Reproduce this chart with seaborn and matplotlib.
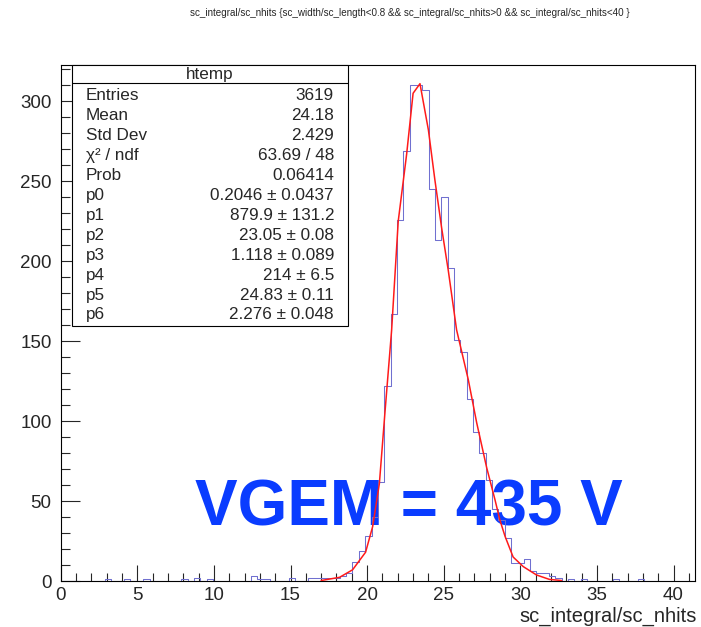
import numpy as np
import pandas as pd
import matplotlib
matplotlib.use("Agg")
import matplotlib.pyplot as plt
import seaborn as sns
from matplotlib.patches import Rectangle
from matplotlib.lines import Line2D
from matplotlib.ticker import MultipleLocator

# ---------------- data ----------------
x_min, x_max, n_bins = 0.0, 41.4, 100
bin_index = [7, 10, 13, 19, 21, 23, 30, 31, 32, 36, 39, 40, 41, 42, 43,
             44, 45, 46, 47, 48, 49, 50, 51, 52, 53, 54, 55, 56, 57, 58,
             59, 60, 61, 62, 63, 64, 65, 66, 67, 68, 69, 70, 71, 72, 73,
             74, 75, 76, 77, 78, 80, 82, 87, 91]
bin_count = [1, 1, 1, 1, 2, 1, 3, 1, 1, 2, 2, 2, 2, 2, 2,
             3, 5, 12, 19, 28, 40, 62, 122, 167, 226, 269, 310, 310, 307, 245,
             213, 240, 196, 151, 143, 114, 93, 80, 63, 45, 38, 27, 11, 11, 14,
             6, 5, 5, 3, 2, 1, 1, 1, 1]

fit_x = [17.0, 18.2, 19.05, 19.9, 20.36, 20.8, 21.16, 21.6, 22.03, 22.58,
         23.0, 23.45, 24.0, 24.42, 24.86, 25.3, 25.84, 26.6, 27.15, 27.8,
         28.34, 28.67, 29.0, 29.53, 30.19, 31.06, 31.9, 32.7]
fit_y = [0.3, 2.3, 7, 18, 34, 61, 105, 157, 225, 267,
         305, 311, 282, 251, 221, 194, 157, 126, 99, 71,
         51, 38, 28, 15, 9, 3.75, 1, 0.3]

stats_title = "htemp"
stats_names = ["Entries", "Mean", "Std Dev", "χ² / ndf", "Prob",
               "p0", "p1", "p2", "p3", "p4", "p5", "p6"]
stats_values = ["3619", "24.18", "2.429", "63.69 / 48", "0.06414",
                "0.2046 ± 0.0437", "879.9 ± 131.2", "23.05 ± 0.08",
                "1.118 ± 0.089", "214 ± 6.5", "24.83 ± 0.11", "2.276 ± 0.048"]

title_text = ("sc_integral/sc_nhits {sc_width/sc_length<0.8 && "
              "sc_integral/sc_nhits>0 && sc_integral/sc_nhits<40 }")
x_label = "sc_integral/sc_nhits"
note_text = "VGEM = 435 V"

# ---------------- build ----------------
edges = np.linspace(x_min, x_max, n_bins + 1)
centers = 0.5 * (edges[:-1] + edges[1:])
counts = np.zeros(n_bins)
counts[bin_index] = bin_count
df = pd.DataFrame({"x": centers, "w": counts})
fit_df = pd.DataFrame({"x": fit_x, "y": fit_y})

sns.set_style("ticks")
plt.rcParams["font.family"] = ["Liberation Sans", "DejaVu Sans"]

W, H = 701, 627
fig = plt.figure(figsize=(W / 100, H / 100), dpi=100)
L, R, B, T = 60.7, 695.0, 581.0, 64.5
ax = fig.add_axes([L / W, 1 - B / H, (R - L) / W, (B - T) / H])

sns.histplot(data=df, x="x", weights="w", bins=[float(e) for e in edges],
             element="step", fill=False, color="#7070d0", linewidth=0.75,
             ax=ax, zorder=3)
sns.lineplot(data=fit_df, x="x", y="y", sort=False, color="#ff1a1a",
             linewidth=1.1, ax=ax, zorder=4)

ax.set_xlim(x_min, x_max)
ax.set_ylim(0, 323)
ax.set_xlabel("")
ax.set_ylabel("")
for s in ax.spines.values():
    s.set_linewidth(0.8)
    s.set_color("black")

ax.xaxis.set_major_locator(MultipleLocator(5))
ax.xaxis.set_minor_locator(MultipleLocator(1))
ax.yaxis.set_major_locator(MultipleLocator(50))
ax.yaxis.set_minor_locator(MultipleLocator(10))
ax.tick_params(axis="x", which="major", direction="in", length=11.2, width=0.8,
               labelsize=13.5, pad=4.5, top=False)
ax.tick_params(axis="x", which="minor", direction="in", length=5.6, width=0.8, top=False)
ax.tick_params(axis="y", which="major", direction="in", length=13.5, width=0.8,
               labelsize=13.5, pad=6.5, right=False)
ax.tick_params(axis="y", which="minor", direction="in", length=6.8, width=0.8, right=False)


def fx(px):
    return px / W


def fy(py):
    return 1 - py / H


fig.text(fx(410), fy(13), title_text, ha="center", va="center", fontsize=7.1)
fig.text(fx(697), fy(622), x_label, ha="right", va="baseline", fontsize=14.5)

# stats box
bx0, bx1, by0, by1 = 72, 348, 65, 326
fig.add_artist(Rectangle((fx(bx0), fy(by1)), fx(bx1) - fx(bx0), fy(by0) - fy(by1),
                         transform=fig.transFigure, facecolor="white",
                         edgecolor="black", linewidth=0.8, zorder=5))
fig.add_artist(Line2D([fx(bx0), fx(bx1)], [fy(83), fy(83)], transform=fig.transFigure,
                      color="black", linewidth=0.8, zorder=6))
fig.text(fx((bx0 + bx1) / 2), fy(74), stats_title, ha="center", va="center",
         fontsize=12.3, zorder=7)
row0, dy = 96, 19.9
for i, (n, v) in enumerate(zip(stats_names, stats_values)):
    yy = row0 + i * dy
    fig.text(fx(86), fy(yy), n, ha="left", va="center", fontsize=12.3, zorder=7)
    fig.text(fx(334), fy(yy), v, ha="right", va="center", fontsize=12.3, zorder=7)

ax.text(fx(195), fy(525), note_text, ha="left", va="baseline", fontsize=46,
        fontweight="bold", color="#0a3cff", zorder=1, transform=fig.transFigure)

fig.savefig("out.png", dpi=100)
